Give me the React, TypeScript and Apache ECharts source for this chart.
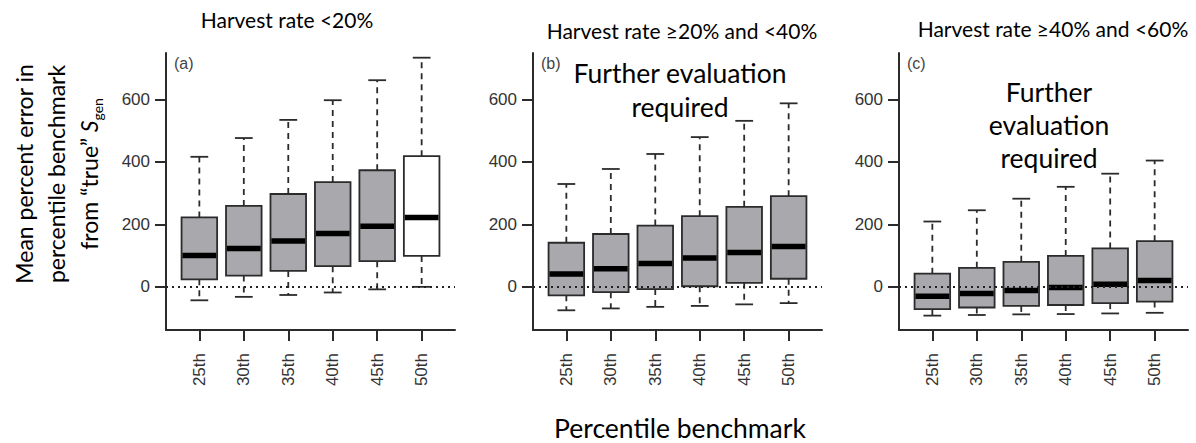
import React, { useEffect, useRef } from "react";
import * as echarts from "echarts";

const categories = ["25th", "30th", "35th", "40th", "45th", "50th"];
const yTicks = [0, 200, 400, 600];

// each row: [lower whisker, Q1, median, Q3, upper whisker]
const panelA = [
  [-43, 24, 100, 222, 416],
  [-32, 36, 123, 259, 476],
  [-26, 51, 147, 297, 534],
  [-18, 66, 171, 335, 597],
  [-8, 82, 194, 373, 661],
  [0, 99, 222, 418, 733],
];
const panelB = [
  [-75, -27, 41, 141, 329],
  [-69, -17, 58, 169, 377],
  [-64, -7, 75, 196, 425],
  [-61, 2, 92, 226, 479],
  [-56, 13, 110, 256, 531],
  [-52, 26, 129, 290, 587],
];
const panelC = [
  [-92, -71, -30, 42, 209],
  [-90, -66, -21, 61, 245],
  [-88, -61, -12, 80, 282],
  [-87, -58, -2, 99, 320],
  [-85, -52, 8, 123, 362],
  [-83, -47, 20, 146, 404],
];
const panelTitles = [
  "Harvest rate <20%",
  "Harvest rate \u226520% and <40%",
  "Harvest rate \u226540% and <60%",
];
const panelTags = ["(a)", "(b)", "(c)"];
const openBoxesA = ["50th"];

const GRAY = "#a9a8ac";
const INK = "#2b2b2b";
const LATO = "Lato, 'Open Sans', sans-serif";
const ARIAL = "'Liberation Sans', Arial, sans-serif";

const gridLefts = [166, 533, 899];

function makeRenderItem(openCats: string[]) {
  return (params: any, api: any) => {
    const x = api.value(0);
    const lo = api.coord([x, api.value(1)]);
    const q1 = api.coord([x, api.value(2)]);
    const md = api.coord([x, api.value(3)]);
    const q3 = api.coord([x, api.value(4)]);
    const hi = api.coord([x, api.value(5)]);
    const w = api.size([0.8, 0])[0];
    const cx = lo[0];
    const open = openCats.indexOf(categories[Math.round(x) - 1]) >= 0;
    const dashStyle = { stroke: INK, lineWidth: 1.8, lineDash: [6, 5] };
    const solid = { stroke: INK, lineWidth: 1.8 };
    return {
      type: "group",
      children: [
        { type: "line", shape: { x1: cx, y1: q3[1], x2: cx, y2: hi[1] }, style: dashStyle },
        { type: "line", shape: { x1: cx, y1: q1[1], x2: cx, y2: lo[1] }, style: dashStyle },
        { type: "line", shape: { x1: cx - w / 4, y1: hi[1], x2: cx + w / 4, y2: hi[1] }, style: solid },
        { type: "line", shape: { x1: cx - w / 4, y1: lo[1], x2: cx + w / 4, y2: lo[1] }, style: solid },
        {
          type: "rect",
          shape: { x: cx - w / 2, y: q3[1], width: w, height: q1[1] - q3[1] },
          style: { fill: open ? "#ffffff" : GRAY, stroke: INK, lineWidth: 1.8 },
        },
        {
          type: "line",
          shape: { x1: cx - w / 2 + 0.9, y1: md[1], x2: cx + w / 2 - 0.9, y2: md[1] },
          style: { stroke: "#000", lineWidth: 5.5 },
        },
      ],
    };
  };
}

export default function App() {
  const ref = useRef<HTMLDivElement>(null);
  useEffect(() => {
    if (!ref.current) return;
    const chart = echarts.init(ref.current, null, { renderer: "svg" });
    const panels = [panelA, panelB, panelC];
    const grids = gridLefts.map((l) => ({
      left: l,
      top: 53,
      width: 289,
      height: 277,
      containLabel: false,
      outerBoundsMode: "none",
    }));
    const xAxes = panels.map((_, i) => ({
      type: "value",
      gridIndex: i,
      min: 0.25,
      max: 6.75,
      splitLine: { show: false },
      axisLine: { show: true, onZero: false, lineStyle: { color: INK, width: 2 } },
      axisTick: {
        show: true,
        customValues: categories.map((_, k) => k + 1),
        length: 11,
        lineStyle: { color: INK, width: 2 },
      },
      axisLabel: {
        customValues: categories.map((_, k) => k + 1),
        formatter: (v: number) => categories[Math.round(v) - 1] || "",
        rotate: 90,
        margin: 23,
        fontFamily: ARIAL,
        fontSize: 17,
        color: "#333",
      },
    }));
    const yAxes = panels.map((_, i) => ({
      type: "value",
      gridIndex: i,
      min: -138,
      max: 748,
      splitLine: { show: false },
      axisLine: { show: true, onZero: false, lineStyle: { color: INK, width: 2 } },
      axisTick: { show: true, customValues: yTicks, length: 11, lineStyle: { color: INK, width: 2 } },
      axisLabel: {
        customValues: yTicks,
        margin: 16,
        fontFamily: ARIAL,
        fontSize: 17,
        color: "#333",
      },
    }));
    const series = panels.map((rows, i) => ({
      type: "custom",
      xAxisIndex: i,
      yAxisIndex: i,
      renderItem: makeRenderItem(i === 0 ? openBoxesA : []),
      data: rows.map((r, k) => [k + 1, ...r]),
      encode: { x: 0, y: [1, 2, 3, 4, 5] },
      z: 2,
      markLine: {
        silent: true,
        symbol: "none",
        z: 10,
        label: { show: false },
        lineStyle: { color: "#222", type: [2, 4], width: 2 },
        data: [{ yAxis: 0 }],
      },
    }));

    const titleXs = [287, 682, 1053];
    const titleYs = [19, 30, 28];
    const graphics: any[] = [];
    panelTitles.forEach((t, i) => {
      graphics.push({
        type: "text",
        x: titleXs[i],
        y: titleYs[i],
        style: { text: t, font: `21px ${LATO}`, fill: "#000", textAlign: "center", textVerticalAlign: "middle" },
      });
    });
    const tagXs = [174, 541, 907];
    panelTags.forEach((t, i) => {
      graphics.push({
        type: "text",
        x: tagXs[i],
        y: 63,
        style: { text: t, font: `16px ${ARIAL}`, fill: "#444", textAlign: "left", textVerticalAlign: "middle" },
      });
    });
    const noteFont = `26.5px ${LATO}`;
    graphics.push({
      type: "text",
      x: 680,
      y: 90,
      style: {
        text: "Further evaluation\nrequired",
        font: noteFont,
        lineHeight: 34,
        fill: "#000",
        textAlign: "center",
        textVerticalAlign: "middle",
      },
    });
    graphics.push({
      type: "text",
      x: 1049,
      y: 125,
      style: {
        text: "Further\nevaluation\nrequired",
        font: noteFont,
        lineHeight: 33,
        fill: "#000",
        textAlign: "center",
        textVerticalAlign: "middle",
      },
    });
    graphics.push({
      type: "text",
      x: 680,
      y: 428,
      style: { text: "Percentile benchmark", font: `26.5px ${LATO}`, fill: "#000", textAlign: "center", textVerticalAlign: "middle" },
    });
    const ylabFont = 23;
    graphics.push({
      type: "text",
      x: 24,
      y: 174,
      rotation: Math.PI / 2,
      style: { text: "Mean percent error in", font: `${ylabFont}px ${LATO}`, fill: "#000", textAlign: "center", textVerticalAlign: "middle" },
    });
    graphics.push({
      type: "text",
      x: 56,
      y: 174,
      rotation: Math.PI / 2,
      style: { text: "percentile benchmark", font: `${ylabFont}px ${LATO}`, fill: "#000", textAlign: "center", textVerticalAlign: "middle" },
    });
    graphics.push({
      type: "text",
      x: 89,
      y: 174,
      rotation: Math.PI / 2,
      style: {
        text: "{n|from \u201ctrue\u201d }{s|S}{sub|gen}",
        textAlign: "center",
        textVerticalAlign: "middle",
        rich: {
          n: { fontFamily: LATO, fontSize: ylabFont, lineHeight: 30, color: "#000" },
          s: { fontFamily: LATO, fontSize: ylabFont, fontStyle: "italic", lineHeight: 30, color: "#000" },
          sub: { fontFamily: LATO, fontSize: 14, lineHeight: 10, verticalAlign: "bottom", color: "#000" },
        },
      },
    });

    chart.setOption({
      animation: false,
      backgroundColor: "#ffffff",
      grid: grids,
      xAxis: xAxes,
      yAxis: yAxes,
      series,
      graphic: graphics,
    } as any);
    return () => chart.dispose();
  }, []);
  return (
    <div
      ref={ref}
      style={{ position: "fixed", left: 0, top: 0, width: 1196, height: 443, background: "#fff" }}
    />
  );
}
